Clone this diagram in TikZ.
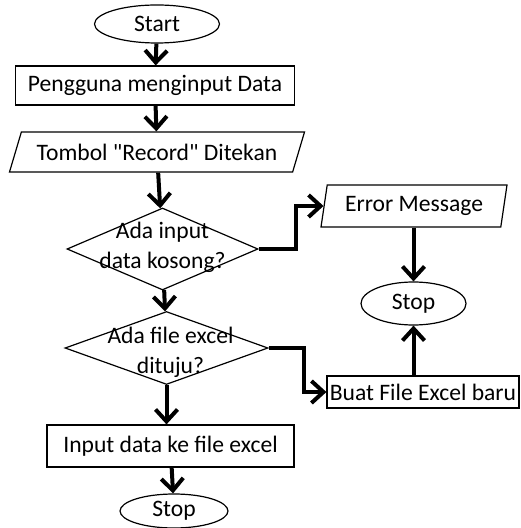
\documentclass[tikz,border=0pt]{standalone}
\usepackage{fontspec}
\setmainfont{Carlito}[Ligatures=TeXOff]
\usetikzlibrary{arrows.meta,shapes.geometric}

\begin{document}
\begin{tikzpicture}[
  x=0.5pt, y=-0.5pt,
  font=\fontsize{11.8}{15}\selectfont,
  every node/.style={draw, line width=0.6pt, inner sep=1pt},
  term/.style={ellipse},
  proc/.style={rectangle},
  io/.style={trapezium, trapezium stretches body},
  dec/.style={diamond, inner sep=0pt},
  dectext/.style={draw=none, align=center},
  arr/.style={-{Straight Barb[length=6pt,width=11pt]}, line width=2pt}
]
\useasboundingbox (0,0) rectangle (520,528);
% main column
\node[term, minimum width=62.5pt, minimum height=19pt] (start) at (157,24) {Start};
\node[proc, minimum width=139.5pt, minimum height=19.5pt] (inp) at (155,85.5) {Pengguna menginput Data};
\node[io, trapezium left angle=60, trapezium right angle=120,
  minimum width=147.5pt, minimum height=20pt] (rec) at (157,152) {Tombol "Record" Ditekan};
\node[dec, minimum width=95.5pt, minimum height=41pt,
  label={[dectext, yshift=1pt]center:Ada input\\data kosong?}] (d1) at (162.5,249) {};
\node[dec, minimum width=101.5pt, minimum height=36.5pt,
  label={[dectext, xshift=2pt, yshift=-2pt]center:Ada file excel\\dituju?}] (d2) at (166.5,348) {};
\node[proc, minimum width=123.5pt, minimum height=21pt] (save) at (170.5,446) {Input data ke file excel};
\node[term, minimum width=54pt, minimum height=17pt] (stopa) at (174,511) {Stop};
% right column
\node[io, trapezium left angle=75, trapezium right angle=105,
  minimum width=93pt, minimum height=21pt] (err) at (414,206) {Error Message};
\node[term, minimum width=52.5pt, minimum height=21.5pt] (stopb) at (413.5,303.5) {Stop};
\node[proc, minimum width=96pt, minimum height=16pt] (baru) at (423,392) {Buat File Excel baru};

\draw[arr] (start) -- (inp);
\draw[arr] (inp) -- (rec);
\draw[arr] (rec) -- (d1);
\draw[arr] (d1) -- (d2);
\draw[arr] (d2) -- (save.north -| d2.south);
\draw[arr] (save) -- (stopa);
\draw[arr] (d1.east) -- ++(37,0) |- (err.west);
\draw[arr] (err.south -| stopb.north) -- (stopb);
\draw[arr] (d2.east) -- ++(35,0) |- (baru.west);
\draw[arr] (baru.north -| stopb.south) -- (stopb);
\end{tikzpicture}
\end{document}
